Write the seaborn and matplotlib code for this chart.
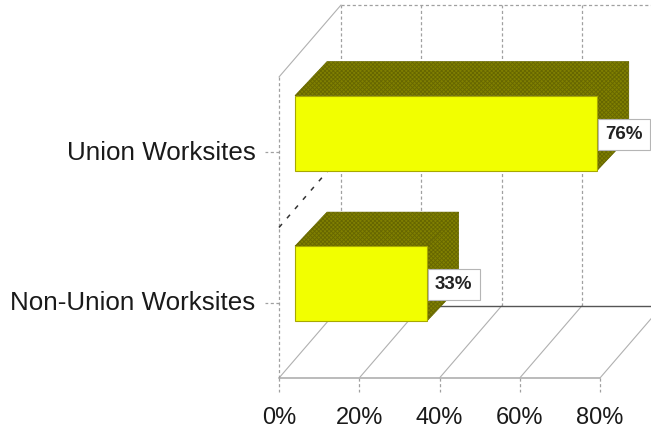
"""Union vs non-union worksites, fake 3D bars"""

import matplotlib
matplotlib.use("Agg")
import matplotlib.pyplot as plt
from matplotlib.patches import Polygon
from matplotlib.transforms import Affine2D
import seaborn as sns
import pandas

categories = ["Union Worksites", "Non-Union Worksites"]
values = [75.2, 32.8]
value_labels = ["76%", "33%"]
x_ticks = [0, 20, 40, 60, 80]
x_tick_labels = ["0%", "20%", "40%", "60%", "80%"]

W, H = 651, 432
YELLOW = "#f2ff00"
OLIVE = "#808000"
GRID = "#a0a0a0"
WALL_DX, WALL_DY = 62, 72
BAR_DX, BAR_DY = 32, 34
SHIFT_DX, SHIFT_DY = 16, 19

sns.set_theme(style="white")
plt.rcParams["font.family"] = ["Liberation Sans", "DejaVu Sans"]
plt.rcParams["hatch.linewidth"] = 0.6

fig = plt.figure(figsize=(W / 100, H / 100), dpi=100)
ax = fig.add_axes([279 / W, 1 - 378 / H, 321 / W, 301 / H])

df = pandas.DataFrame({"cat": categories, "val": values})
sns.barplot(data=df, x="val", y="cat", orient="h", color=YELLOW, saturation=1, width=0.5, ax=ax, zorder=5)
ax.set_xlim(0, 80)
ax.set_ylim(1.5, -0.5)
ax.set_xlabel("")
ax.set_ylabel("")
for s in ax.spines.values():
    s.set_visible(False)
ax.patch.set_visible(False)


def moved(dx, dy):
    return ax.transData + Affine2D().translate(dx, dy)


def wall_line(x0, y0, x1, y1, dx0=0, dy0=0, dx1=WALL_DX, dy1=WALL_DY, **kw):
    # line between two points given in data coords plus pixel depth
    p0 = ax.transData.transform((x0, y0)) + (dx0, dy0)
    p1 = ax.transData.transform((x1, y1)) + (dx1, dy1)
    ax.plot([p0[0], p1[0]], [p0[1], p1[1]], transform=None, clip_on=False, **kw)


thin = dict(color="#b0b0b0", lw=0.8, zorder=1)
dash = dict(color=GRID, lw=0.9, ls=(0, (2.5, 2)), zorder=1)

# back wall grid, floor lines
for t in x_ticks:
    if t < 80:
        wall_line(t, 1.5, t, -0.5, WALL_DX, WALL_DY, WALL_DX, WALL_DY, **dash)
    wall_line(t, 1.5, t, 1.5, **thin)
    wall_line(t, 1.5, t, 1.5, 0, 0, 0, -14, **dash)
wall_line(0, -0.5, 80, -0.5, WALL_DX, WALL_DY, WALL_DX + 60, WALL_DY, **dash)
wall_line(0, 1.5, 80, 1.5, dx1=0, dy1=0, color="#b5b5b5", lw=1.3, zorder=1)
wall_line(0, 1.5, 80, 1.5, WALL_DX, WALL_DY, WALL_DX + 60, WALL_DY, color="#555555", lw=1.0, zorder=1)

# left wall
wall_line(0, -0.5, 0, -0.5, **thin)
wall_line(0, -0.5, 0, 1.5, dx1=0, dy1=0, **dash)
wall_line(0, 0.5, 0, 0.5, color="#333333", lw=1.1, ls=(0, (3, 5)), zorder=1)
for i in range(len(categories)):
    wall_line(0, i, 0, i, 0, 0, -14, 0, **dash)

# yellow fronts plus olive top and side
for bar in ax.patches:
    x0, y0 = bar.get_x(), bar.get_y()
    w, h = bar.get_width(), bar.get_height()
    bar.set_transform(moved(SHIFT_DX, SHIFT_DY))
    bar.set_edgecolor("#a8a800")
    bar.set_linewidth(0.8)
    bar.set_clip_on(False)
    a, b = [ax.transData.transform(p) + (SHIFT_DX, SHIFT_DY) for p in [(x0, y0), (x0 + w, y0 + h)]]
    d = (BAR_DX, BAR_DY)
    top = [(a[0], a[1]), (b[0], a[1]), (b[0] + d[0], a[1] + d[1]), (a[0] + d[0], a[1] + d[1])]
    side = [(b[0], a[1]), (b[0], b[1]), (b[0] + d[0], b[1] + d[1]), (b[0] + d[0], a[1] + d[1])]
    for pts in (top, side):
        ax.add_patch(Polygon(pts, closed=True, transform=None, facecolor=OLIVE, edgecolor="#666600", hatch="xxxxxxxx",
                             lw=0.5, zorder=4, clip_on=False))

# value boxes
for i, (v, lab) in enumerate(zip(values, value_labels)):
    ax.annotate(lab, xy=(v, i), xycoords=moved(SHIFT_DX, SHIFT_DY), xytext=(19.5, -0.8), textcoords="offset points",
                ha="center", va="center", fontsize=13.5, fontweight="bold", color="#222222", zorder=8,
                bbox=dict(boxstyle="square,pad=0.38", fc="white", ec="#b5b5b5", lw=0.8), annotation_clip=False)

ax.set_xticks(x_ticks)
ax.set_xticklabels(x_tick_labels)
ax.tick_params(axis="x", bottom=True, length=0, labelsize=17, labelcolor="#1a1a1a", pad=21)
ax.tick_params(axis="y", left=True, length=0, labelsize=18.7, labelcolor="#1a1a1a", pad=17)
for lab in ax.get_yticklabels():
    lab.set_transform(lab.get_transform() + Affine2D().translate(0, 2))

fig.savefig("out.png", dpi=100)
